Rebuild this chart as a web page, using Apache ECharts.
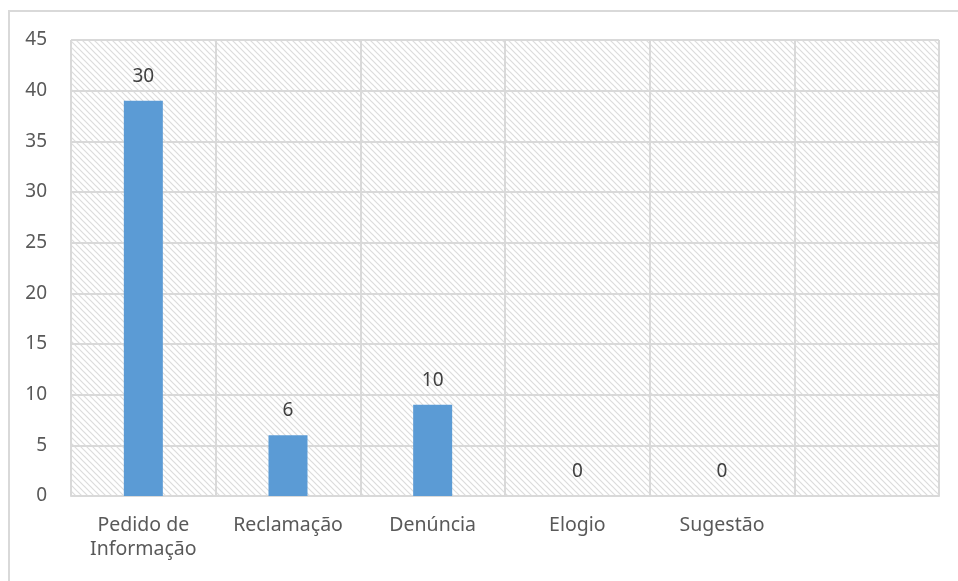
<!DOCTYPE html>
<html>
<head>
<meta charset="utf-8">
<script src="https://cdn.jsdelivr.net/npm/echarts@6/dist/echarts.min.js"></script>
<style>
  html, body { margin: 0; padding: 0; background: #fff; overflow: hidden; }
  .moldura {
    position: absolute; left: 8px; top: 10px;
    width: 1000px; height: 1000px;
    border: 2px solid #d9d9d9; box-sizing: border-box;
  }
  #grafico { position: absolute; left: 0; top: 0; width: 958px; height: 581px; }
</style>
</head>
<body>
<div class="moldura"></div>
<div id="grafico"></div>
<script>
// categorias e valores
const categorias = ['Pedido de\nInformação', 'Reclamação', 'Denúncia', 'Elogio', 'Sugestão', '']
const alturas = [39, 6, 9, 0, 0, null]
const rotulos = ['30', '6', '10', '0', '0', '']
const ticksY = [0, 5, 10, 15, 20, 25, 30, 35, 40, 45]

// fundo hachurado da área do gráfico
function hachura() {
  let c = document.createElement('canvas')
  c.width = 6
  c.height = 6
  let ctx = c.getContext('2d')
  ctx.fillStyle = '#fff'
  ctx.fillRect(0, 0, 6, 6)
  ctx.strokeStyle = '#dcdcdc'
  ctx.lineWidth = 1.2
  ctx.beginPath()
  ctx.moveTo(-1, -1); ctx.lineTo(7, 7)
  ctx.moveTo(-7, -1); ctx.lineTo(1, 7)
  ctx.moveTo(5, -1); ctx.lineTo(13, 7)
  ctx.stroke()
  return c
}

let chart = echarts.init(document.getElementById('grafico'))
let fonte = 'Noto Sans'
let option = {
  animation: false,
  grid: {
    left: 71, right: 19, top: 40, bottom: 85,
    show: true,
    borderWidth: 0,
    backgroundColor: { image: hachura(), repeat: 'repeat' }
  },
  xAxis: {
    type: 'category',
    data: categorias,
    axisLine: { lineStyle: { color: '#d9d9d9', width: 2 } },
    axisTick: { show: false },
    splitLine: { show: true, interval: 0, lineStyle: { color: '#d9d9d9', width: 2 } },
    axisLabel: {
      interval: 0, margin: 17, color: '#595959',
      fontFamily: fonte, fontSize: 19.5, lineHeight: 24
    }
  },
  yAxis: {
    type: 'value',
    min: ticksY[0], max: ticksY[ticksY.length - 1], interval: 5,
    axisLine: { show: false },
    axisTick: { show: false },
    splitLine: { lineStyle: { color: '#d9d9d9', width: 2 } },
    axisLabel: { margin: 24, color: '#595959', fontFamily: fonte, fontSize: 19 }
  },
  series: [{
    type: 'bar',
    data: alturas,
    barWidth: 39,
    itemStyle: { color: '#5b9bd5' },
    label: {
      show: true,
      position: 'top',
      distance: 15,
      color: '#404040',
      fontFamily: fonte,
      fontSize: 19,
      formatter(p) {
        return rotulos[p.dataIndex]
      }
    }
  }]
}
option && chart.setOption(option)
</script>
</body>
</html>
